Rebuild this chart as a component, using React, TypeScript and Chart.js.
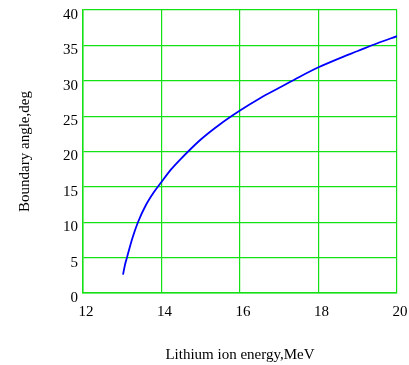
import React, { useEffect, useRef } from "react";
import { Chart, registerables } from "chart.js";

Chart.register(...registerables);

const energyMeV = [13.02, 13.07, 13.12, 13.25, 13.4, 13.6, 13.8, 14.0, 14.25, 14.5, 15.0, 15.5, 16.0, 16.5, 17.0, 17.5, 18.0, 18.5, 19.0, 19.5, 20.0];
const angleDeg = [2.6, 4.0, 5.0, 7.6, 10.0, 12.4, 14.2, 15.7, 17.5, 19.0, 21.7, 23.9, 25.8, 27.5, 29.0, 30.5, 31.9, 33.1, 34.2, 35.3, 36.3];
const xTicks = [12, 14, 16, 18, 20];
const yTicks = [0, 5, 10, 15, 20, 25, 30, 35, 40];
const xTitle = "Lithium ion energy,MeV";
const yTitle = "Boundary angle,deg";

const FONT = '"Liberation Serif", "Times New Roman", serif';
const GREEN = "rgb(20,225,20)";

export default function App() {
  const ref = useRef<HTMLCanvasElement | null>(null);
  useEffect(() => {
    document.body.style.margin = "0";
    const ctx = ref.current!;
    const chart = new Chart(ctx, {
      type: "scatter",
      data: {
        datasets: [
          {
            data: energyMeV.map((x, i) => ({ x, y: angleDeg[i] })),
            showLine: true,
            borderColor: "rgb(0,0,255)",
            borderWidth: 1.8,
            pointRadius: 0,
            cubicInterpolationMode: "monotone",
          },
        ],
      },
      options: {
        animation: false,
        responsive: false,
        layout: { padding: { top: 10, right: 12, left: 0, bottom: 0 } },
        plugins: { legend: { display: false }, tooltip: { enabled: false } },
        scales: {
          x: {
            type: "linear",
            min: xTicks[0],
            max: xTicks[xTicks.length - 1],
            afterBuildTicks: (s: any) => {
              s.ticks = xTicks.map((v) => ({ value: v }));
            },
            afterFit: (s: any) => {
              s.height = 72;
              s.paddingLeft = 0;
              s.paddingRight = 0;
            },
            grid: { color: GREEN, lineWidth: 1.2, drawTicks: false },
            border: { color: GREEN, width: 1.5 },
            ticks: {
              color: "#000",
              font: { family: FONT, size: 15 },
              padding: 10,
              labelOffset: 3,
              maxRotation: 0,
            },
            title: {
              display: true,
              text: xTitle,
              color: "#000",
              font: { family: FONT, size: 15 },
              padding: { top: 0, bottom: 1 },
            },
          },
          y: {
            type: "linear",
            min: yTicks[0],
            max: yTicks[yTicks.length - 1],
            afterBuildTicks: (s: any) => {
              s.ticks = yTicks.map((v) => ({ value: v }));
            },
            afterFit: (s: any) => {
              s.width = 83;
              s.paddingTop = 0;
              s.paddingBottom = 0;
            },
            grid: { color: GREEN, lineWidth: 1.2, drawTicks: false },
            border: { color: GREEN, width: 1.5 },
            ticks: {
              color: "#000",
              font: { family: FONT, size: 15 },
              padding: 5,
              labelOffset: 5,
            },
            title: {
              display: true,
              text: yTitle,
              color: "#000",
              font: { family: FONT, size: 15 },
              padding: { top: 16, bottom: 0 },
            },
          },
        },
      },
    });
    return () => chart.destroy();
  }, []);
  return (
    <div style={{ position: "absolute", left: 0, top: 0, width: 409, height: 365, background: "#fff" }}>
      <canvas ref={ref} width={409} height={365} />
    </div>
  );
}
